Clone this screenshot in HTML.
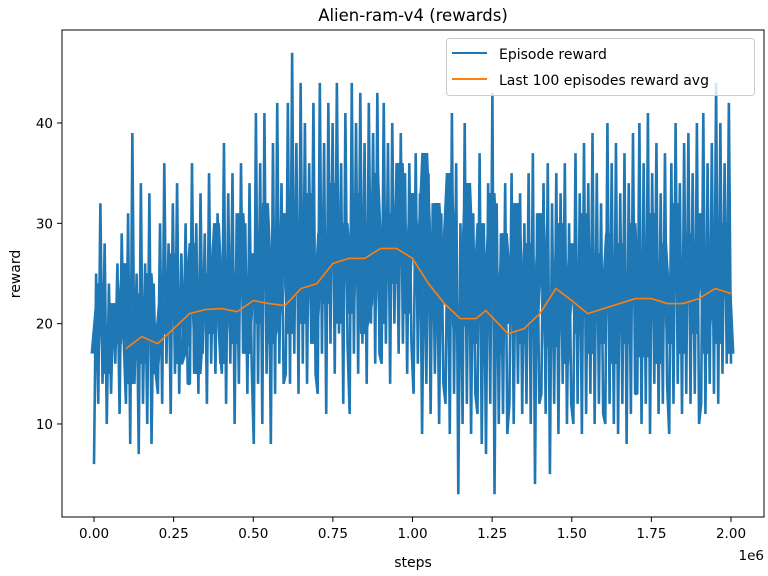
<!DOCTYPE html>
<html><head><meta charset="utf-8"><style>
body{margin:0;background:#fff;}
svg{display:block;font-family:"DejaVu Sans","Liberation Sans",sans-serif;}
</style></head><body>
<svg id="chart" width="768" height="576">
<rect x="0" y="0" width="768" height="576" fill="#fff"/>
<text x="413" y="21" text-anchor="middle" font-size="16.5">Alien-ram-v4 (rewards)</text>
<defs><clipPath id="clip"><rect x="62" y="30" width="702" height="487"/></clipPath></defs>
<g id="series" clip-path="url(#clip)"></g>
<rect x="62" y="30" width="702" height="487" fill="none" stroke="#000" stroke-width="1"/>
<g id="axes" font-size="13.5"></g>
<text x="413" y="567" text-anchor="middle" font-size="14">steps</text>
<text x="20" y="274" text-anchor="middle" font-size="14" transform="rotate(-90 20 274)">reward</text>
<text x="764" y="560" text-anchor="end" font-size="13.5">1e6</text>
<g>
<rect x="446.5" y="38.5" width="308" height="57" rx="3" fill="#fff" fill-opacity="0.8" stroke="#ccc"/>
<line x1="452" y1="53" x2="487" y2="53" stroke="#1f77b4" stroke-width="2"/>
<text x="499" y="59" font-size="14">Episode reward</text>
<line x1="452" y1="79" x2="487" y2="79" stroke="#ff7f0e" stroke-width="2"/>
<text x="499" y="85" font-size="14">Last 100 episodes reward avg</text>
</g>
</svg>
<script>
const episodeRewards=[6,25,12,32,14,28,10,24,13,22,16,26,11,29,18,
12,31,8,39,14,25,7,34,12,26,10,33,8,24,15,
13,30,12,36,16,28,11,32,15,34,13,27,17,30,14,
14,36,15,30,13,33,17,29,12,35,16,28,15,31,18,
15,38,12,33,16,35,10,31,14,36,17,30,13,34,16,
8,41,14,36,10,41,15,30,8,38,13,42,16,34,14,
15,42,14,47,17,38,13,44,16,40,14,36,18,42,15,
13,44,17,38,11,42,18,40,15,44,19,36,12,41,18,
11,44,17,40,15,43,18,38,14,42,20,39,16,43,17,
16,42,18,38,14,40,20,36,17,39,18,35,15,36,18,
13,37,16,33,9,30,14,35,11,32,15,29,10,31,14,
12,32,9,41,13,36,3,30,10,40,12,33,9,31,13,
11,37,8,30,7,34,12,43,3,32,10,29,11,34,9,
12,35,10,31,14,33,11,30,12,35,10,37,4,31,12,
13,34,11,36,5,32,12,35,9,33,14,36,10,30,12,
10,37,12,33,9,38,11,34,13,39,10,35,12,32,11,
10,40,12,36,10,38,9,33,12,37,8,34,11,39,13,
13,40,10,36,12,41,9,35,14,38,11,33,12,37,14,
9,36,12,40,14,34,11,38,13,39,12,35,13,40,10,
12,41,11,36,14,38,13,44,12,40,15,36,16,42,16];
const coreRewards=[17,24,15,22,18,26,14,23,16,25,15,22,19,27,16,
18,28,15,25,19,30,16,26,18,31,17,27,20,32,18,
21,31,19,28,20,33,18,29,22,34,20,30,21,33,19,
22,35,20,31,24,36,21,33,23,37,21,32,22,35,20,
20,34,18,30,21,33,17,29,20,32,18,28,19,31,18,
18,30,16,28,19,31,17,27,18,29,16,28,18,30,17,
17,31,16,28,18,32,17,29,19,31,17,28,18,30,17];
const avgSteps=[0.1,0.15,0.2,0.25,0.3,0.35,0.4,0.45,0.5,0.55,0.6,0.65,0.7,0.75,0.8,0.85,0.9,0.95,1.0,1.05,1.1,1.15,1.2,1.23,1.27,1.3,1.35,1.4,1.45,1.5,1.55,1.6,1.65,1.7,1.75,1.8,1.85,1.9,1.95,2.0];
const avgValues=[17.5,18.7,18,19.5,21,21.4,21.5,21.2,22.3,22,21.8,23.5,24,26,26.5,26.5,27.5,27.5,26.5,24,22,20.5,20.5,21.3,20,19,19.5,21,23.5,22.3,21,21.5,22,22.5,22.5,22,22,22.5,23.5,23];
const xTicks=[0,0.25,0.5,0.75,1.0,1.25,1.5,1.75,2.0];
const xTickLabels=["0.00","0.25","0.50","0.75","1.00","1.25","1.50","1.75","2.00"];
const yTicks=[10,20,30,40];
const xMaxSteps=2.0;

const NS="http://www.w3.org/2000/svg";
function xs(v){return 94+v*318.5;}
function ys(v){return 524.3-v*10.033;}
const series=document.getElementById('series');
const axes=document.getElementById('axes');

function linePath(arr){
  let d="";
  arr.forEach((v,i)=>{const s=i*xMaxSteps/(arr.length-1);d+=(i?"L":"M")+xs(s).toFixed(2)+","+ys(v).toFixed(2);});
  return d;
}
const ep=document.createElementNS(NS,'path');
ep.setAttribute('d',linePath(episodeRewards));ep.setAttribute('fill','none');ep.setAttribute('stroke','#1f77b4');ep.setAttribute('stroke-width','2.6');ep.setAttribute('stroke-linejoin','bevel');


series.appendChild(ep);
const core=document.createElementNS(NS,'path');
core.setAttribute('d',linePath(coreRewards));core.setAttribute('fill','none');core.setAttribute('stroke','#1f77b4');core.setAttribute('stroke-width','7');


series.appendChild(core);

let d2="";
avgSteps.forEach((s,i)=>{d2+=(i?"L":"M")+xs(s).toFixed(2)+","+ys(avgValues[i]).toFixed(2);});
const av=document.createElementNS(NS,'path');
av.setAttribute('d',d2);av.setAttribute('fill','none');av.setAttribute('stroke','#ff7f0e');av.setAttribute('stroke-width','1.6');


series.appendChild(av);

xTicks.forEach((t,i)=>{
  const x=xs(t);
  const l=document.createElementNS(NS,'line');
  l.setAttribute('x1',x);l.setAttribute('x2',x);l.setAttribute('y1',517);l.setAttribute('y2',522);l.setAttribute('stroke','#000');
  
  
  axes.appendChild(l);
  const tx=document.createElementNS(NS,'text');
  tx.setAttribute('x',x);tx.setAttribute('y',538);tx.setAttribute('text-anchor','middle');tx.textContent=xTickLabels[i];
  
  
  axes.appendChild(tx);
});
yTicks.forEach(t=>{
  const y=ys(t);
  const l=document.createElementNS(NS,'line');
  l.setAttribute('x1',57);l.setAttribute('x2',62);l.setAttribute('y1',y);l.setAttribute('y2',y);l.setAttribute('stroke','#000');
  
  
  axes.appendChild(l);
  const tx=document.createElementNS(NS,'text');
  tx.setAttribute('x',53);tx.setAttribute('y',y+5);tx.setAttribute('text-anchor','end');tx.textContent=t;
  
  
  axes.appendChild(tx);
});
</script>
</body></html>
